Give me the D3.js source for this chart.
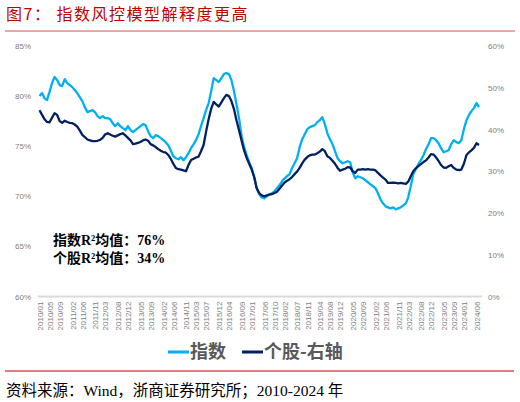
<!DOCTYPE html>
<html>
<head>
<meta charset="utf-8">
<script src="https://cdn.jsdelivr.net/npm/d3@7"></script>
<style>
  body { margin: 0; background: #fff; }
  svg { display: block; }
</style>
</head>
<body>
<svg id="chart" width="520" height="402"></svg>
<script>
// monthly series, first value = 2010/01
const startMonth = "2010/01";

const xTickLabels = [
  "2010/01", "2010/05", "2010/09", "2011/02", "2011/06", "2011/11", "2012/03", "2012/08",
  "2012/12", "2013/05", "2013/09", "2014/02", "2014/06", "2014/11", "2015/03", "2015/07",
  "2015/12", "2016/04", "2016/09", "2017/01", "2017/06", "2017/10", "2018/02", "2018/07",
  "2018/11", "2019/04", "2019/08", "2019/12", "2020/05", "2020/09", "2021/02", "2021/06",
  "2021/11", "2022/03", "2022/08", "2022/12", "2023/05", "2023/09", "2024/01", "2024/06"
];

// 指数 R2 (left axis, %)
const indexR2 = [
  80.0, 80.3, 79.8, 79.6, 80.4, 81.3, 81.9, 81.6, 81.1, 81.0, 81.7, 81.3,
  81.1, 80.9, 80.6, 80.3, 79.9, 79.5, 78.9, 78.4, 78.5, 78.6, 78.4, 78.0,
  77.8, 78.0, 77.8, 77.8, 77.7, 77.3, 77.0, 77.3, 77.0, 76.8, 76.6, 77.0,
  76.6, 76.4, 76.6, 76.8, 77.0, 77.2, 77.1, 76.5, 76.0, 75.8, 76.1, 76.0,
  75.8, 75.6, 75.4, 75.1, 74.6, 74.0, 73.8, 73.7, 73.9, 73.6, 73.9, 74.3,
  74.8, 75.2, 75.6, 76.2, 77.0, 77.8, 78.6, 79.3, 80.5, 81.8, 81.6, 81.4,
  81.8, 82.2, 82.3, 82.2, 81.6, 80.5, 79.2, 77.8, 76.0, 74.9, 74.1, 73.4,
  72.8, 71.9, 70.8, 70.2, 69.9, 69.8, 70.0, 70.2, 70.3, 70.5, 70.8, 71.1,
  71.5, 71.8, 72.0, 72.2, 72.8, 73.3, 73.8, 74.9, 75.7, 76.2, 76.7, 76.9,
  77.0, 77.1, 77.4, 77.6, 77.9, 77.2, 76.3, 75.7, 75.2, 74.5, 73.8, 73.5,
  73.3, 73.4, 73.5, 73.4, 72.4, 71.8, 72.0, 71.9, 71.8, 71.6, 71.4, 71.2,
  71.0, 70.8, 70.3, 69.7, 69.3, 69.0, 68.9, 68.8, 68.9, 68.7, 68.8, 68.9,
  69.1, 69.3, 69.9, 71.0, 72.2, 72.7, 73.2, 73.6, 74.1, 74.7, 75.2, 75.8,
  75.8, 75.6, 75.3, 74.8, 74.4, 74.5, 74.6, 75.2, 75.6, 75.4, 75.3, 75.6,
  76.7, 77.6, 78.1, 78.5, 78.8, 79.3, 78.9
];

// 个股 R2 (right axis, %)
const stockR2 = [
  44.6, 43.5, 42.5, 41.8, 41.7, 42.8, 43.9, 43.5, 42.0, 41.6, 42.1, 41.8,
  41.6, 41.5, 41.2, 40.7, 39.8, 38.7, 38.2, 37.6, 37.4, 37.2, 37.2, 37.3,
  37.5, 38.0, 38.8, 39.1, 38.8, 38.5, 38.3, 38.6, 38.9, 39.1, 38.6, 38.0,
  37.4, 36.5, 36.6, 36.8, 37.0, 37.4, 37.6, 37.3, 36.5, 36.2, 35.8, 35.3,
  34.9, 34.6, 34.5, 33.9, 33.0, 31.8, 30.8, 30.5, 30.4, 30.2, 30.0, 31.5,
  32.7, 33.0, 33.3, 33.5, 34.8, 36.3, 39.5, 42.5, 45.0, 46.6, 46.0, 45.5,
  46.5, 47.5, 48.3, 48.0, 46.8, 44.9, 42.2, 39.8, 37.3, 35.0, 33.2, 31.8,
  30.4, 28.5, 26.0, 24.8, 24.2, 24.0, 24.2, 24.4, 24.5, 24.8, 25.1, 25.8,
  26.6, 27.3, 27.7, 28.1, 28.6, 29.3, 29.9, 30.8, 31.9, 32.8, 33.4, 33.8,
  34.0, 34.0, 34.3, 34.7, 35.3, 34.8, 33.6, 33.2, 32.5, 31.8, 30.8, 30.1,
  30.4, 30.6, 31.0, 30.9, 30.0, 29.6, 30.4, 30.4, 30.5, 30.4, 30.5, 30.4,
  30.4, 30.2, 29.6, 29.0, 28.5, 28.0, 27.2, 27.2, 27.3, 27.2, 27.1, 27.2,
  27.1, 27.0, 27.5, 28.8, 30.0, 30.7, 31.2, 31.7, 32.2, 32.6, 33.3, 34.1,
  34.0, 33.3, 32.5, 31.5, 30.9, 30.8, 31.2, 31.5, 30.8, 30.4, 30.3, 30.4,
  31.8, 33.9, 34.5, 35.0, 35.6, 36.7, 36.3
];

const leftTicks = [60, 65, 70, 75, 80, 85];
const rightTicks = [0, 10, 20, 30, 40, 50, 60];

const indexColor = "#00b0f0";
const stockColor = "#002060";
const tickColor = "#808080";
const tickFont = "'Liberation Sans', Arial, sans-serif";
const cjkSerif = "'Liberation Serif', 'Noto Sans CJK SC', serif";

const svg = d3.select("#chart");

const parseMonth = d3.timeParse("%Y/%m");
const midMonth = s => d3.timeDay.offset(parseMonth(s), 14);
const t0 = parseMonth(startMonth);
const dates = indexR2.map((_, i) => d3.timeDay.offset(d3.timeMonth.offset(t0, i), 14));

const x = d3.scaleTime()
    .domain([dates[0], dates[dates.length - 1]])
    .range([39.5, 479]);
const yLeft = d3.scaleLinear().domain([60, 85]).range([296.5, 46]);
const yRight = d3.scaleLinear().domain([0, 60]).range([296.5, 46]);

// title
svg.append("text")
    .attr("x", 6).attr("y", 20)
    .attr("fill", "#c00000")
    .style("font-family", "'Noto Sans CJK SC', sans-serif")
    .style("font-size", "16px")
    .style("letter-spacing", "1.5px")
    .text("图7：   指数风控模型解释度更高");

svg.append("line")
    .attr("x1", 5).attr("x2", 515).attr("y1", 31).attr("y2", 31)
    .attr("stroke", "#d05050").attr("stroke-width", 1);

// base line of the plot
svg.append("line")
    .attr("x1", 38).attr("x2", 482)
    .attr("y1", yLeft(60)).attr("y2", yLeft(60))
    .attr("stroke", "#d9d9d9").attr("stroke-width", 2);

// left axis
const leftAxis = svg.append("g")
    .attr("transform", "translate(31,0)")
    .call(d3.axisLeft(yLeft).tickValues(leftTicks).tickSize(0).tickPadding(0)
        .tickFormat(d => d + "%"));

// right axis
const rightAxis = svg.append("g")
    .attr("transform", "translate(488,0)")
    .call(d3.axisRight(yRight).tickValues(rightTicks).tickSize(0).tickPadding(0)
        .tickFormat(d => d + "%"));

// bottom axis
const bottomAxis = svg.append("g")
    .attr("transform", `translate(0,${yLeft(60)})`)
    .call(d3.axisBottom(x).tickValues(xTickLabels.map(midMonth)).tickSize(0)
        .tickFormat(d3.timeFormat("%Y/%m")));

bottomAxis.selectAll("text")
    .attr("transform", "rotate(-90)")
    .attr("text-anchor", "end")
    .attr("x", -5)
    .attr("y", 0)
    .attr("dy", "0.35em");

[leftAxis, rightAxis, bottomAxis].forEach(g => {
    g.select(".domain").remove();
    g.selectAll("text")
        .attr("fill", tickColor)
        .style("font-family", tickFont)
        .style("font-size", "8px");
});

// lines
const indexLine = d3.line()
    .x((d, i) => x(dates[i]))
    .y(d => yLeft(d));

const stockLine = d3.line()
    .x((d, i) => x(dates[i]))
    .y(d => yRight(d));

svg.append("path")
    .datum(indexR2)
    .attr("d", indexLine)
    .attr("fill", "none")
    .attr("stroke", indexColor)
    .attr("stroke-width", 2.3)
    .attr("stroke-linejoin", "round");

svg.append("path")
    .datum(stockR2)
    .attr("d", stockLine)
    .attr("fill", "none")
    .attr("stroke", stockColor)
    .attr("stroke-width", 2.3)
    .attr("stroke-linejoin", "round");

// annotation
const notes = ["指数R²均值：76%", "个股R²均值：34%"];
svg.append("g")
    .selectAll("text")
    .data(notes)
    .join("text")
    .attr("x", 53)
    .attr("y", (d, i) => 245 + i * 18)
    .attr("fill", "#000")
    .style("font-family", cjkSerif)
    .style("font-size", "14px")
    .style("font-weight", "bold")
    .text(d => d);

// legend
const legend = [
    { label: "指数", color: indexColor, x: 168 },
    { label: "个股-右轴", color: stockColor, x: 242 }
];
const lg = svg.append("g")
    .selectAll("g")
    .data(legend)
    .join("g")
    .attr("transform", d => `translate(${d.x},352)`);

lg.append("line")
    .attr("x1", 0).attr("x2", 21)
    .attr("stroke", d => d.color)
    .attr("stroke-width", 3);

lg.append("text")
    .attr("x", 22).attr("dy", "0.36em")
    .attr("fill", "#595959")
    .style("font-family", "'Noto Sans CJK SC', sans-serif")
    .style("font-size", "18px")
    .style("font-weight", "bold")
    .text(d => d.label);

svg.append("line")
    .attr("x1", 5).attr("x2", 514).attr("y1", 371).attr("y2", 371)
    .attr("stroke", "#c00000").attr("stroke-width", 1.2);

// source
svg.append("text")
    .attr("x", 6).attr("y", 396)
    .attr("fill", "#000")
    .style("font-family", cjkSerif)
    .style("font-size", "15.5px")
    .text("资料来源：Wind，浙商证券研究所；2010-2024 年");
</script>
</body>
</html>
